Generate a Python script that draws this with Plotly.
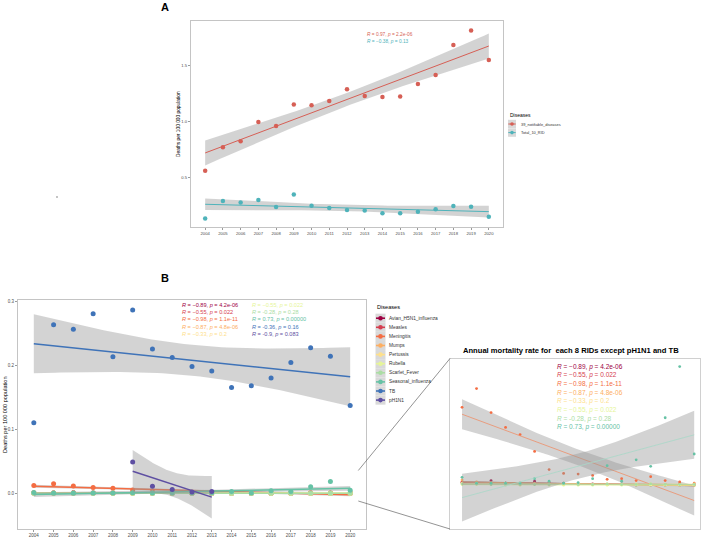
import numpy as np
import plotly.graph_objects as go

W, H = 708, 539
years = list(range(2004, 2021))

# ---------- Panel A data ----------
notifiable_39 = [0.556, 0.768, 0.821, 0.994, 0.958, 1.149, 1.143, 1.181, 1.286,
                 1.226, 1.217, 1.220, 1.333, 1.413, 1.681, 1.810, 1.547]
total_10_rid = [0.131, 0.286, 0.274, 0.295, 0.232, 0.345, 0.244, 0.223, 0.205,
                0.202, 0.176, 0.176, 0.190, 0.212, 0.241, 0.235, 0.146]
a_labels = ["39_notifiable_diseases", "Total_10_RID"]
a_stats = ["<i>R</i> = 0.97, <i>p</i> = 2.2e-06", "<i>R</i> = −0.38, <i>p</i> = 0.13"]

# ---------- Panel B data ----------
avian = [0.0004, 0.0004, 0.0007, 0.0003, 0.0003, 0.0006, 0.0002, 0.0002, 0.0001,
         0.0001, 0.0001, 0.0001, 0.0000, 0.0000, 0.0000, 0.0000, 0.0000]
measles = [0.0005, 0.0004, 0.0003, 0.0003, 0.0002, 0.0003, 0.0004, 0.0003, 0.0002,
           0.0002, 0.0001, 0.0002, 0.0001, 0.0001, 0.0001, 0.0002, 0.0001]
meningitis = [0.0120, 0.0149, 0.0112, 0.0089, 0.0078, 0.0052, 0.0024, 0.0018, 0.0017,
              0.0015, 0.0009, 0.0010, 0.0007, 0.0013, 0.0007, 0.0005, 0.0003]
mumps = [0.0008, 0.0005, 0.0004, 0.0003, 0.0003, 0.0002, 0.0002, 0.0002, 0.0001,
         0.0001, 0.0001, 0.0001, 0.0001, 0.0001, 0.0000, 0.0000, 0.0000]
pertussis = [0.0003, 0.0002, 0.0002, 0.0002, 0.0002, 0.0002, 0.0002, 0.0001, 0.0002,
             0.0001, 0.0002, 0.0001, 0.0002, 0.0002, 0.0001, 0.0001, 0.0002]
rubella = [0.0001, 0.0001, 0.0001, 0.0000, 0.0000, 0.0001, 0.0000, 0.0000, 0.0000,
           0.0000, 0.0000, 0.0000, 0.0000, 0.0000, 0.0000, 0.0000, 0.0000]
scarlet = [0.0002, 0.0002, 0.0001, 0.0002, 0.0001, 0.0001, 0.0001, 0.0002, 0.0001,
           0.0001, 0.0002, 0.0001, 0.0001, 0.0002, 0.0001, 0.0001, 0.0001]
seasonal = [0.0012, 0.0003, 0.0003, 0.0003, 0.0003, 0.0010, 0.0006, 0.0003, 0.0004,
            0.0010, 0.0030, 0.0006, 0.0039, 0.0029, 0.0104, 0.0183, 0.0048]
tb = [0.110, 0.263, 0.256, 0.280, 0.213, 0.286, 0.225, 0.212, 0.198,
      0.191, 0.165, 0.168, 0.180, 0.204, 0.227, 0.214, 0.137]
ph1n1_years = [2009, 2010, 2011, 2012, 2013]
ph1n1 = [0.049, 0.011, 0.006, 0.002, 0.003]

b_names = ["Avian_H5N1_influenza", "Measles", "Meningitis", "Mumps", "Pertussis",
           "Rubella", "Scarlet_Fever", "Seasonal_influenza", "TB", "pH1N1"]
b_colors = ["#9E0142", "#D53E4F", "#F46D43", "#FDAE61", "#FEE08B",
            "#E6F598", "#ABDDA4", "#66C2A5", "#3F73B8", "#5E4FA2"]
b_stats = ["<i>R</i> = −0.89, <i>p</i> = 4.2e-06", "<i>R</i> = −0.55, <i>p</i> = 0.022",
           "<i>R</i> = −0.98, <i>p</i> = 1.1e-11", "<i>R</i> = −0.87, <i>p</i> = 4.8e-06",
           "<i>R</i> = −0.33, <i>p</i> = 0.2", "<i>R</i> = −0.55, <i>p</i> = 0.022",
           "<i>R</i> = -0.28, <i>p</i> = 0.28", "<i>R</i> = 0.73, <i>p</i> = 0.00000",
           "<i>R</i> = -0.36, <i>p</i> = 0.16", "<i>R</i> = -0.9, <i>p</i> = 0.083"]
inset_title = "Annual mortality rate for  each 8 RIDs except pH1N1 and TB"

T_Q = {15: 2.1314, 3: 3.1824}


def fit(x, y, n_grid=60):
    x = np.asarray(x, float)
    y = np.asarray(y, float)
    n = len(x)
    b, a = np.polyfit(x, y, 1)
    xg = np.linspace(x.min(), x.max(), n_grid)
    yh = a + b * xg
    s = np.sqrt(np.sum((y - (a + b * x)) ** 2) / (n - 2))
    sxx = np.sum((x - x.mean()) ** 2)
    se = s * np.sqrt(1 / n + (xg - x.mean()) ** 2 / sxx)
    t = T_Q[n - 2]
    return xg, yh, yh - t * se, yh + t * se


def px(x):
    return x / W


def py(y):
    return 1 - y / H


fig = go.Figure()
BAND = "rgba(150,150,150,0.42)"


def add_series(x, y, color, xa, ya, msize, lw, line_color=None):
    xg, yh, lo, hi = fit(x, y)
    fig.add_trace(go.Scatter(x=list(xg) + list(xg[::-1]), y=list(hi) + list(lo[::-1]),
                             fill="toself", fillcolor=BAND, line=dict(width=0),
                             mode="lines", hoverinfo="skip", showlegend=False,
                             xaxis=xa, yaxis=ya))
    fig.add_trace(go.Scatter(x=x, y=y, mode="markers",
                             marker=dict(size=msize, color=color), showlegend=False,
                             xaxis=xa, yaxis=ya))
    fig.add_trace(go.Scatter(x=xg, y=yh, mode="lines",
                             line=dict(color=line_color or color, width=lw), showlegend=False,
                             xaxis=xa, yaxis=ya))


# Panel A
a_colors = ["#D65F55", "#4FB3BA"]
add_series(years, notifiable_39, a_colors[0], "x", "y", 4.5, 1.0)
add_series(years, total_10_rid, a_colors[1], "x", "y", 4.5, 1.0)

# Panel B main
b_series = [avian, measles, meningitis, mumps, pertussis, rubella, scarlet, seasonal, tb]
for vals, col in zip(b_series, b_colors[:9]):
    add_series(years, vals, col, "x2", "y2", 5, 1.5)
add_series(ph1n1_years, ph1n1, b_colors[9], "x2", "y2", 5, 1.5)

# Inset
for vals, col in zip(b_series[:8], b_colors[:8]):
    lc = col
    if col == "#66C2A5":
        lc = "#A8D8C8"
    if col == "#F46D43":
        lc = "#EE8F6A"
    add_series(years, vals, col, "x3", "y3", 2.8, 0.8, line_color=lc)

tick_font = dict(family="Liberation Sans, Arial", size=4.5, color="#4d4d4d")
common_x = dict(showgrid=False, zeroline=False, showline=True, mirror=True,
                linecolor="#c4c4c4", linewidth=1, ticks="outside", ticklen=2,
                tickcolor="#9a9a9a", tickwidth=0.6, tickvals=years,
                ticktext=[str(v) for v in years], tickfont=tick_font)
common_y = dict(showgrid=False, zeroline=False, showline=True, mirror=True,
                linecolor="#c4c4c4", linewidth=1, ticks="outside", ticklen=2,
                tickcolor="#9a9a9a", tickwidth=0.6, tickfont=tick_font)
small_font = dict(family="Liberation Sans, Arial", size=4.2, color="#4d4d4d")

fig.update_layout(
    width=W, height=H, margin=dict(l=0, r=0, t=0, b=0),
    paper_bgcolor="white", plot_bgcolor="white", showlegend=False,
    font=dict(family="Liberation Sans, Arial"),
    xaxis=dict(domain=[px(191), px(503)], range=[2003.2, 2020.8], anchor="y",
               **{**common_x, "tickfont": small_font}),
    yaxis=dict(domain=[py(227), py(21)], range=[0.054, 1.896], anchor="x",
               tickvals=[0.5, 1.0, 1.5], ticktext=["0.5", "1.0", "1.5"],
               **{**common_y, "tickfont": small_font}),
    xaxis2=dict(domain=[px(18), px(366)], range=[2003.2, 2020.8], anchor="y2", **common_x),
    yaxis2=dict(domain=[py(529), py(300)], range=[-0.0557, 0.3016], anchor="x2",
                tickvals=[0, 0.1, 0.2, 0.3], ticktext=["0.0", "0.1", "0.2", "0.3"], **common_y),
    xaxis3=dict(domain=[px(450), px(700)], range=[2003.17, 2020.4], anchor="y3",
                showgrid=False, zeroline=False, showline=True, mirror=True,
                linecolor="#d0d0d0", linewidth=1, showticklabels=False, ticks=""),
    yaxis3=dict(domain=[py(529), py(358.5)], range=[-0.00677, 0.01954], anchor="x3",
                showgrid=False, zeroline=False, showline=True, mirror=True,
                linecolor="#d0d0d0", linewidth=1, showticklabels=False, ticks=""),
)

ann = []
shapes = []


def text(x, y, s, size, color="#000", bold=False, angle=0, anchor="left"):
    if bold:
        s = "<b>" + s + "</b>"
    ann.append(dict(x=px(x), y=py(y), xref="paper", yref="paper", text=s, showarrow=False,
                    xanchor=anchor, yanchor="middle", textangle=angle,
                    font=dict(family="Liberation Sans, Arial", size=size, color=color)))


# Panel labels
text(165, 7, "A", 11, bold=True, anchor="center")
text(165, 278, "B", 11, bold=True, anchor="center")

# Axis titles
text(178, 124, "Deaths per 100 000 population", 4.8, angle=-90, anchor="center")
text(5, 415, "Deaths per 100 000 population", 5.6, angle=-90, anchor="center")

# Panel A stats
for i, (s, c) in enumerate(zip(a_stats, a_colors)):
    text(365, 34.3 + i * 7.4, s, 4.8, color=c)

# Panel A legend
text(507.5, 115, "Diseases", 5.0)
for i, (lab, c) in enumerate(zip(a_labels, a_colors)):
    yc = 124 + i * 8.6
    shapes.append(dict(type="rect", xref="paper", yref="paper", x0=px(508), x1=px(516),
                       y0=py(yc - 4.2), y1=py(yc + 4.2), fillcolor="#d9d9d9", line=dict(width=0)))
    shapes.append(dict(type="line", xref="paper", yref="paper", x0=px(508.3), x1=px(515.7),
                       y0=py(yc), y1=py(yc), line=dict(color=c, width=1)))
    shapes.append(dict(type="circle", xref="paper", yref="paper", x0=px(510.2), x1=px(513.8),
                       y0=py(yc - 1.8), y1=py(yc + 1.8), fillcolor=c, line=dict(width=0)))
    text(519, yc, lab, 3.9, color="#333")

# Panel B stats
for i in range(10):
    col = i // 5
    row = i % 5
    text(180 + col * 69.5, 305 + row * 7.2, b_stats[i], 5.6, color=b_colors[i])

# Panel B legend
text(375, 307, "Diseases", 5.6)
for i, (lab, c) in enumerate(zip(b_names, b_colors)):
    yc = 318.2 + i * 9.1
    shapes.append(dict(type="rect", xref="paper", yref="paper", x0=px(375.5), x1=px(385.5),
                       y0=py(yc - 4.55), y1=py(yc + 4.55), fillcolor="#d9d9d9", line=dict(width=0)))
    shapes.append(dict(type="line", xref="paper", yref="paper", x0=px(376), x1=px(385),
                       y0=py(yc), y1=py(yc), line=dict(color=c, width=1.6)))
    shapes.append(dict(type="circle", xref="paper", yref="paper", x0=px(378.2), x1=px(382.8),
                       y0=py(yc - 2.3), y1=py(yc + 2.3), fillcolor=c, line=dict(width=0)))
    text(387.3, yc, lab, 4.8, color="#333")

# Inset title and stats
text(461, 350, inset_title, 7.6, bold=True)
for i in range(8):
    text(555, 366.7 + i * 8.67, b_stats[i], 6.5, color=b_colors[i])

# Connecting lines
shapes.append(dict(type="line", xref="paper", yref="paper", x0=px(358.3), y0=py(470.5),
                   x1=px(450), y1=py(358.5), line=dict(color="#666", width=0.7)))
shapes.append(dict(type="line", xref="paper", yref="paper", x0=px(358.3), y0=py(501),
                   x1=px(450), y1=py(529), line=dict(color="#666", width=0.7)))
# small stray dot
shapes.append(dict(type="circle", xref="paper", yref="paper", x0=px(56.2), x1=px(57.8),
                   y0=py(196.2), y1=py(197.8), fillcolor="#777", line=dict(width=0)))

fig.update_layout(annotations=ann, shapes=shapes)
fig.write_html("out.html", config={"displayModeBar": False},
               post_script="document.body.style.margin='0';document.body.style.padding='0';"
                           "document.body.style.overflow='hidden';")
